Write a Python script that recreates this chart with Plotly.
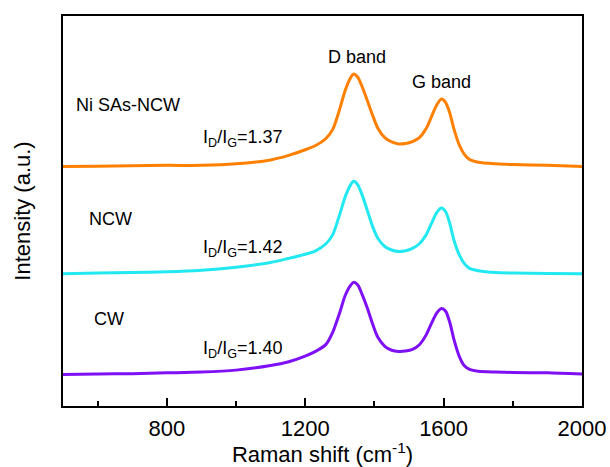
import plotly.graph_objects as go

# Raman shift grid (cm^-1) shared by the three spectra
shift = [500, 600, 700, 800, 900, 1000, 1100, 1150, 1200, 1230, 1260, 1280, 1300, 1315,
         1330, 1340, 1352, 1365, 1380, 1395, 1410, 1430, 1450, 1470, 1490, 1510, 1530,
         1550, 1565, 1580, 1594, 1606, 1618, 1630, 1645, 1660, 1675, 1700, 1750, 1800,
         1900, 2000]

# vertically offset intensities (a.u.)
ni_sas_ncw = [0.614, 0.615, 0.616, 0.617, 0.617, 0.621, 0.631, 0.642, 0.657, 0.668, 0.686,
              0.710, 0.762, 0.808, 0.840, 0.851, 0.843, 0.818, 0.782, 0.745, 0.712, 0.688,
              0.677, 0.672, 0.673, 0.678, 0.688, 0.712, 0.742, 0.772, 0.787, 0.778, 0.751,
              0.710, 0.670, 0.645, 0.632, 0.625, 0.621, 0.619, 0.617, 0.614]
ncw = [0.339, 0.341, 0.342, 0.344, 0.348, 0.356, 0.368, 0.378, 0.389, 0.398, 0.416, 0.440,
       0.492, 0.535, 0.565, 0.576, 0.567, 0.540, 0.500, 0.460, 0.430, 0.409, 0.400, 0.396,
       0.398, 0.404, 0.416, 0.440, 0.468, 0.496, 0.508, 0.498, 0.468, 0.425, 0.388, 0.365,
       0.353, 0.347, 0.342, 0.341, 0.340, 0.339]
cw = [0.081, 0.082, 0.083, 0.085, 0.087, 0.092, 0.104, 0.113, 0.128, 0.140, 0.158, 0.190,
      0.240, 0.282, 0.308, 0.317, 0.310, 0.285, 0.250, 0.210, 0.176, 0.153, 0.143, 0.140,
      0.141, 0.145, 0.157, 0.183, 0.212, 0.238, 0.250, 0.243, 0.214, 0.170, 0.128, 0.103,
      0.094, 0.089, 0.087, 0.086, 0.085, 0.082]

sample_names = ["Ni SAs-NCW", "NCW", "CW"]
ratios = ["1.37", "1.42", "1.40"]
colors = ["#FF8000", "#22E8F2", "#7F10F5"]

FONT = "Liberation Sans, Arial, sans-serif"

fig = go.Figure()
for name, ys, c in zip(sample_names, [ni_sas_ncw, ncw, cw], colors):
    fig.add_trace(go.Scatter(x=shift, y=ys, mode="lines", name=name,
                             line=dict(color=c, width=3, shape="spline", smoothing=0.7)))

# sample labels and I_D/I_G ratios
label_pos = [(532, 0.772), (570, 0.480), (585, 0.222)]
ratio_y = [0.687, 0.403, 0.145]
for name, (lx, ly), r, ry in zip(sample_names, label_pos, ratios, ratio_y):
    fig.add_annotation(x=lx, y=ly, text=name, showarrow=False,
                       xanchor="left", yanchor="middle", font=dict(size=18, color="black"))
    fig.add_annotation(x=900, y=ry, text=f"I<sub>D</sub>/I<sub>G</sub>={r}", showarrow=False,
                       xanchor="left", yanchor="middle", font=dict(size=18, color="black"))

fig.add_annotation(x=1350, y=0.895, text="D band", showarrow=False,
                   font=dict(size=18, color="black"))
fig.add_annotation(x=1595, y=0.831, text="G band", showarrow=False,
                   font=dict(size=18, color="black"))

fig.update_layout(
    width=610, height=467,
    margin=dict(l=63, r=28, t=16, b=61),
    paper_bgcolor="white", plot_bgcolor="white",
    showlegend=False,
    font=dict(family=FONT, color="black", size=22),
)
fig.update_xaxes(
    range=[500, 2000], tickvals=[800, 1200, 1600, 2000],
    ticks="inside", ticklen=8, tickwidth=2, tickcolor="black",
    minor=dict(tickvals=[600, 1000, 1400, 1800], ticks="inside", ticklen=5,
               tickwidth=2, tickcolor="black"),
    showline=True, linecolor="black", linewidth=2, mirror=True,
    showgrid=False, zeroline=False, automargin=False,
    tickfont=dict(size=22), ticklabelstandoff=2,
    title=dict(text="Raman shift (cm<sup>-1</sup>)", font=dict(size=22), standoff=12),
)
fig.update_yaxes(
    range=[0, 1], showticklabels=False, ticks="",
    showline=True, linecolor="black", linewidth=2, mirror=True,
    showgrid=False, zeroline=False, automargin=False,
    title=dict(text="Intensity (a.u.)", font=dict(size=22), standoff=24),
)

fig.write_html("out.html")
